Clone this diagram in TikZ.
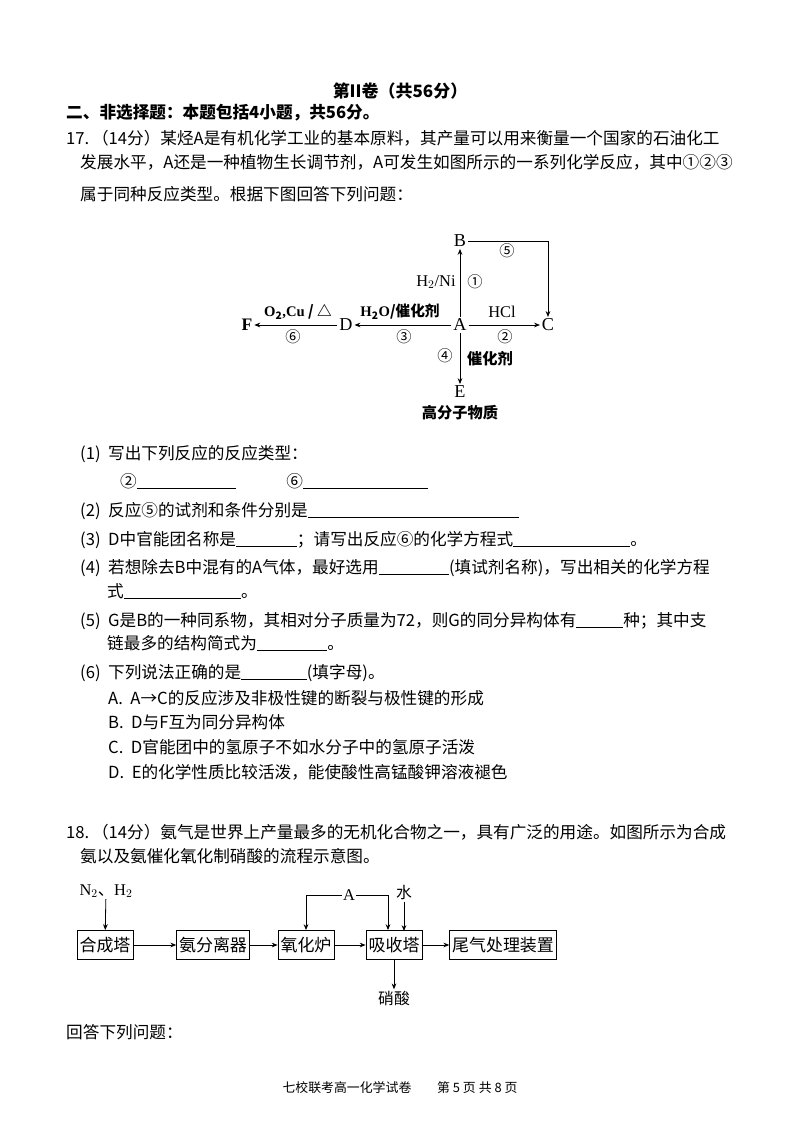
\documentclass[tikz,border=0pt]{standalone}
\usepackage{fontspec}
\setmainfont{Noto Sans CJK SC}
\newfontfamily\en{Liberation Serif}
\usetikzlibrary{arrows.meta}
\newcommand{\blank}[1]{\underline{\hspace{#1pt}}}
\begin{document}
\begin{tikzpicture}[x=0.03cm,y=-0.03cm,
  txt/.style={anchor=base west,inner sep=0pt,font=\fontsize{14.2}{16}\selectfont},
  lab/.style={inner sep=1pt,font=\fontsize{13}{15}\selectfont},
  ltr/.style={inner sep=1.5pt,font=\en\fontsize{15.5}{17}\selectfont},
  arr/.style={-{Stealth[length=5pt,width=4pt]},line width=0.7pt},
  box/.style={draw,line width=0.7pt,minimum height=29*0.03cm,inner sep=2pt,font=\fontsize{14.5}{16}\selectfont}]
\useasboundingbox (0,0) rectangle (800,1131);
\node[inner sep=0,font=\bfseries\fontsize{14.5}{16}\selectfont] (title) at (400,91) {第II卷（共56分）};
\node[txt,font=\bfseries\fontsize{14.2}{16}\selectfont] (l1) at (66,119) {二、非选择题：本题包括4小题，共56分。};
\node[txt] (l2) at (66,145) {17.\,（14分）某烃A是有机化学工业的基本原料，其产量可以用来衡量一个国家的石油化工};
\node[txt] (l3) at (80,169) {发展水平，A还是一种植物生长调节剂，A可发生如图所示的一系列化学反应，其中①②③};
\node[txt] (l4) at (80,201) {属于同种反应类型。根据下图回答下列问题：};
% diagram
\node[ltr] (A) at (460,325) {A};
\node[ltr] (B) at (460,241) {B};
\node[ltr] (C) at (548,325) {C};
\node[ltr] (D) at (346,325) {D};
\node[ltr,font=\en\bfseries\fontsize{15}{17}\selectfont] (F) at (247,325) {F};
\node[ltr] (E) at (460,392) {E};
\node[lab,font=\bfseries\fontsize{13}{15}\selectfont] (Ed) at (460,413) {高分子物质};
\draw[arr] (A) -- (B);
\draw[arr] (A) -- (C);
\draw[arr] (A) -- (D);
\draw[arr] (D) -- (F);
\draw[arr] (A) -- (E);
\draw[arr] (B.east) -| (C.north);
\node[lab,font=\en\fontsize{14}{16}\selectfont] (l1a) at (436,282) {H$_2$/Ni};
\node[lab] (n1) at (475,282) {①};
\node[lab] (n5) at (507,251) {⑤};
\node[lab,font=\en\fontsize{14}{16}\selectfont] (l2a) at (502,312) {HCl};
\node[lab] (n2) at (505,337) {②};
\node[lab,font=\bfseries\fontsize{12.5}{15}\selectfont] (l3a) at (400,312) {{\en H$_\mathbf{2}$O}/催化剂};
\node[lab] (n3) at (404,337) {③};
\node[lab,font=\bfseries\fontsize{12.5}{15}\selectfont] (l6a) at (298,312) {{\en O$_\mathbf{2}$,Cu} / △};
\node[lab] (n6) at (293,337) {⑥};
\node[lab] (n4) at (445,356) {④};
\node[lab,font=\bfseries\fontsize{13}{15}\selectfont] (l4a) at (490,359) {催化剂};
% questions
\node[txt] (q1) at (80,459) {(1)\ \ 写出下列反应的反应类型：};
\node[txt] (q1a) at (120,487) {②\blank{85}\qquad\quad ⑥\blank{107}};
\node[txt] (q2) at (80,516) {(2)\ \ 反应⑤的试剂和条件分别是\blank{180}};
\node[txt] (q3) at (80,545) {(3)\ \ D中官能团名称是\blank{52}；请写出反应⑥的化学方程式\blank{100}。};
\node[txt] (q4) at (80,573) {(4)\ \ 若想除去B中混有的A气体，最好选用\blank{60}(填试剂名称)，写出相关的化学方程};
\node[txt] (q4b) at (107,597) {式\blank{100}。};
\node[txt] (q5) at (80,626) {(5)\ \ G是B的一种同系物，其相对分子质量为72，则G的同分异构体有\blank{40}种；其中支};
\node[txt] (q5b) at (107,649) {链最多的结构简式为\blank{60}。};
\node[txt] (q6) at (80,678) {(6)\ \ 下列说法正确的是\blank{56}(填字母)。};
\node[txt] (oA) at (108,704) {A.\ \ A→C的反应涉及非极性键的断裂与极性键的形成};
\node[txt] (oB) at (108,728) {B.\ \ D与F互为同分异构体};
\node[txt] (oC) at (108,753) {C.\ \ D官能团中的氢原子不如水分子中的氢原子活泼};
\node[txt] (oD) at (108,778) {D.\ \ E的化学性质比较活泼，能使酸性高锰酸钾溶液褪色};
\node[txt] (r1) at (66,838) {18.\,（14分）氨气是世界上产量最多的无机化合物之一，具有广泛的用途。如图所示为合成};
\node[txt] (r2) at (80,862) {氨以及氨催化氧化制硝酸的流程示意图。};
% flowchart
\node[box,minimum width=56*0.03cm] (b1) at (105,945) {合成塔};
\node[box,minimum width=70*0.03cm] (b2) at (213,945) {氨分离器};
\node[box,minimum width=56*0.03cm] (b3) at (306,945) {氧化炉};
\node[box,minimum width=56*0.03cm] (b4) at (394,945) {吸收塔};
\node[box,minimum width=99*0.03cm] (b5) at (503,945) {尾气处理装置};
\draw[arr] (b1) -- (b2);
\draw[arr] (b2) -- (b3);
\draw[arr] (b3) -- (b4);
\draw[arr] (b4) -- (b5);
\node[lab,font=\en\fontsize{14}{16}\selectfont] (in) at (106,891) {N$_2${\normalfont\fontsize{14}{16}\selectfont 、}H$_2$};
\draw[arr] (in) -- (b1);
\node[lab,font=\en\fontsize{14}{16}\selectfont] (Ain) at (349,895) {A};
\draw[arr] (Ain.west) -| (b3.north);
\draw[arr] (Ain.east) -| ([xshift=-6*0.03cm]b4.north);
\node[lab,font=\fontsize{13.5}{15}\selectfont] (w) at (404,893) {水};
\draw[arr] (w) -- (404,931);
\node[lab,font=\fontsize{13.5}{15}\selectfont] (hno3) at (394,998) {硝酸};
\draw[arr] (b4) -- (hno3);
\node[txt] (r3) at (66,1038) {回答下列问题：};
\node[inner sep=0,font=\fontsize{11}{13}\selectfont] (foot) at (400,1088) {七校联考高一化学试卷\qquad 第 5 页 共 8 页};
\end{tikzpicture}
\end{document}
